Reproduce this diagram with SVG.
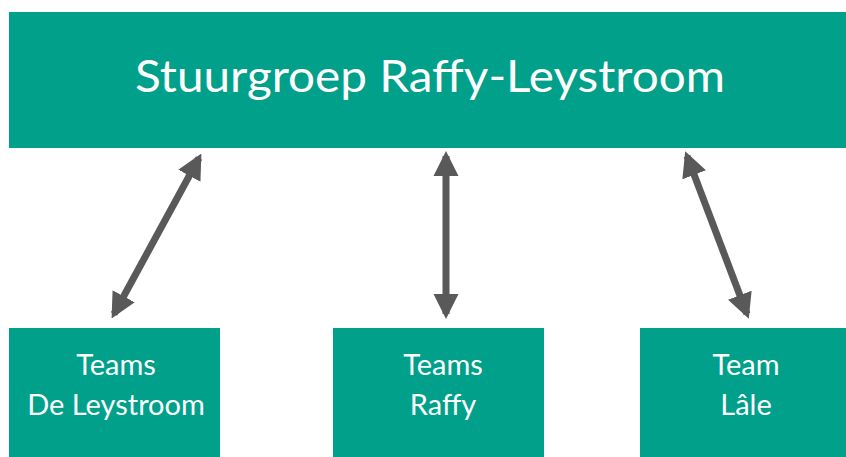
<svg xmlns="http://www.w3.org/2000/svg" width="846" height="457" viewBox="0 0 846 457">
  <style>
    .box { fill: #00A08A; }
    .title { font-family: Lato, "Open Sans", sans-serif; font-size: 44px; fill: #ffffff; text-anchor: middle; }
    .lbl { font-family: Lato, "Open Sans", sans-serif; font-size: 29px; fill: #ffffff; text-anchor: middle; }
    .conn { stroke: #595959; stroke-width: 7; fill: none; }
  </style>
  <defs>
    <marker id="ah" viewBox="0 0 10 10" refX="8" refY="5" markerWidth="3.6" markerHeight="3.6" orient="auto-start-reverse" markerUnits="strokeWidth">
      <path d="M0,0 L10,5 L0,10 Z" fill="#595959"/>
    </marker>
  </defs>
  <rect width="846" height="457" fill="#ffffff"/>
  <g id="stuurgroep">
    <rect class="box" x="9" y="12" width="837" height="136"/>
    <text class="title" x="430" y="92" textLength="590" lengthAdjust="spacingAndGlyphs">Stuurgroep Raffy-Leystroom</text>
  </g>
  <g id="teams-de-leystroom">
    <rect class="box" x="9" y="328" width="211" height="129"/>
    <text class="lbl" x="116" y="375">Teams</text>
    <text class="lbl" x="116" y="415">De Leystroom</text>
  </g>
  <g id="teams-raffy">
    <rect class="box" x="333" y="328" width="211" height="129"/>
    <text class="lbl" x="443" y="375">Teams</text>
    <text class="lbl" x="443" y="415">Raffy</text>
  </g>
  <g id="team-lale">
    <rect class="box" x="640" y="328" width="206" height="129"/>
    <text class="lbl" x="746" y="375">Team</text>
    <text class="lbl" x="746" y="415">Lâle</text>
  </g>
  <g id="connectors">
    <line class="conn" x1="114" y1="314" x2="199" y2="158" marker-start="url(#ah)" marker-end="url(#ah)"/>
    <line class="conn" x1="446" y1="314" x2="446" y2="156" marker-start="url(#ah)" marker-end="url(#ah)"/>
    <line class="conn" x1="747" y1="314" x2="687" y2="156" marker-start="url(#ah)" marker-end="url(#ah)"/>
  </g>
</svg>
